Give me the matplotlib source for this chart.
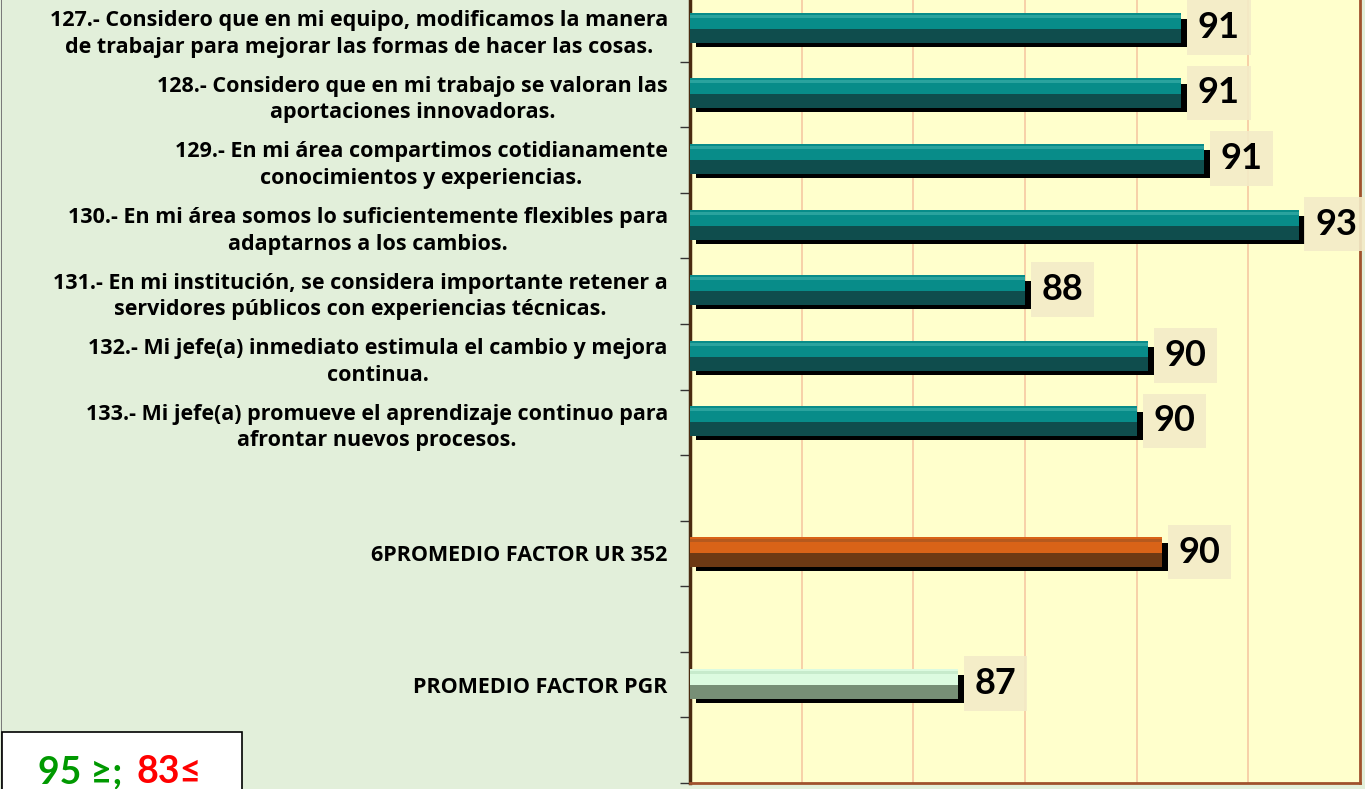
import matplotlib.pyplot as plt
from matplotlib.patches import Rectangle

plt.rcParams['font.family'] = ['Lato', 'DejaVu Sans']

labels = [
    "127.- Considero que en mi equipo, modificamos la manera\nde trabajar para mejorar las formas de hacer las cosas.",
    "128.- Considero que en mi trabajo se valoran las\naportaciones innovadoras.",
    "129.- En mi área compartimos cotidianamente\nconocimientos y experiencias.",
    "130.- En mi área somos lo suficientemente flexibles para\nadaptarnos a los cambios.",
    "131.- En mi institución, se considera importante retener a\nservidores públicos con experiencias técnicas.",
    "132.- Mi jefe(a) inmediato estimula el cambio y mejora\ncontinua.",
    "133.- Mi jefe(a) promueve el aprendizaje continuo para\nafrontar nuevos procesos.",
    "6PROMEDIO FACTOR UR 352",
    "PROMEDIO FACTOR PGR",
]
values = [90.8, 90.8, 91.2, 92.9, 88.0, 90.2, 90.0, 90.45, 86.8]
slots = [0, 1, 2, 3, 4, 5, 6, 8, 10]
kinds = ["item"] * 7 + ["ur", "pgr"]

palette = {
    "item": ("#088c89", "#0f4d4d", "#2aa39e"),
    "ur": ("#d96318", "#6d3914", "#b5591e"),
    "pgr": ("#dcfbe0", "#778f76", "#c7ebcc"),
}

xmin, xmax = 82, 94
n_slots = 12

fig = plt.figure(figsize=(13.65, 7.89), dpi=100)
fig.patch.set_facecolor("#e2efda")
ax = fig.add_axes([690 / 1365, 1 - 783 / 789, 670 / 1365, 787 / 789])
ax.set_facecolor("#ffffcc")

ax.set_xlim(xmin, xmax)
ax.set_ylim(n_slots - 0.5, -0.5)
ax.set_xticks(range(xmin + 2, xmax, 2))
ax.xaxis.grid(True, color="#f6c8a2", lw=1.2)
ax.set_axisbelow(True)
ax.tick_params(axis="x", length=0, labelbottom=False)

px_x = (xmax - xmin) / 670
px_y = n_slots / 787
h = 28 * px_y

for s, v, k in zip(slots, values, kinds):
    top_c, bot_c, edge_c = palette[k]
    w = v - xmin
    # shadow
    ax.barh(s + 4 * px_y, w, left=xmin + 6 * px_x, height=h, color="black", zorder=2)
    # lower (dark) face
    ax.barh(s, w, left=xmin, height=h, color=bot_c, zorder=3)
    # upper (light) face
    ax.barh(s - h / 4 - 1 * px_y, w, left=xmin, height=h / 2 + 2 * px_y, color=top_c, zorder=4)
    ax.barh(s - h / 2 + 1.5 * px_y, w, left=xmin, height=3 * px_y, color=edge_c, zorder=5)
    ax.annotate(f"{v:.0f}", xy=(v, s), xytext=(12, 1), textcoords="offset points",
                ha="left", va="center", fontsize=26, fontweight="bold", color="black",
                bbox=dict(boxstyle="square,pad=0.3", fc="#f3ebc8", ec="none", alpha=0.9),
                zorder=6)

ax.set_yticks(slots)
ax.set_yticklabels(labels, fontsize=15.5, family=["Open Sans", "DejaVu Sans"],
                   fontweight="bold", multialignment="center", linespacing=1.35)
ax.tick_params(axis="y", which="major", length=0, pad=16)
ax.set_yticks([i - 0.5 for i in range(n_slots + 1)], minor=True)
ax.tick_params(axis="y", which="minor", length=7, width=1, color="#333333", direction="out")

ax.spines["left"].set_color("#4a2a10")
ax.spines["left"].set_linewidth(2.5)
for sp in ["right", "bottom", "top"]:
    ax.spines[sp].set_color("#a0522d")
    ax.spines[sp].set_linewidth(2)

fig.add_artist(Rectangle((1 / 1365, 0), 1 / 1365, 1, transform=fig.transFigure,
                         color="#7a7a7a", lw=0))
fig.add_artist(Rectangle((2 / 1365, -0.01), 240 / 1365, (789 - 732) / 789 + 0.01,
                         transform=fig.transFigure, fc="white", ec="black", lw=1.2))
fig.text(38 / 1365, 1 - 772 / 789, "95 ≥;", color="#009900", fontsize=27,
         fontweight="bold", va="center", ha="left")
fig.text(137 / 1365, 1 - 772 / 789, "83≤", color="#ff0000", fontsize=27,
         fontweight="bold", va="center", ha="left")

fig.savefig("out.png", dpi=100, facecolor=fig.get_facecolor())
